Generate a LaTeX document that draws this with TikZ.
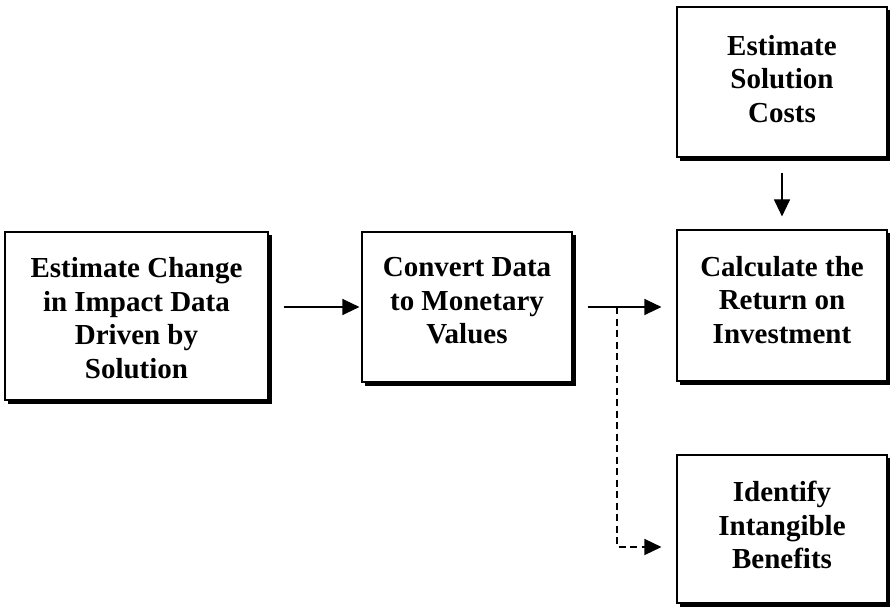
\documentclass[tikz,border=0pt]{standalone}
\usepackage{fontspec}
\setmainfont{Liberation Serif}
\usetikzlibrary{arrows.meta,shadows,calc}
\tikzset{
  stepbox/.style={draw=black, line width=1.1pt, fill=white, inner sep=0pt,
    copy shadow={shadow xshift=3.5pt, shadow yshift=-3.5pt, fill=black, draw=black, line width=0.6pt}},
  boxtext/.style={align=center, font=\fontsize{29}{33.5}\selectfont\bfseries, inner sep=0pt},
  flow/.style={line width=1.1pt, -{Triangle[length=17pt,width=16pt]}},
  dashflow/.style={flow, line width=1.4pt, dash pattern=on 7pt off 4.5pt}
}
\begin{document}
\begin{tikzpicture}[x=1pt, y=-1pt]
  \useasboundingbox (0,0) rectangle (890,609);
  % boxes
  \node[stepbox, minimum width=263pt, minimum height=168pt] (b1) at (136.5,316) {};
  \node[stepbox, minimum width=210pt, minimum height=150pt] (b2) at (467,307) {};
  \node[stepbox, minimum width=210pt, minimum height=150pt] (b3) at (782,82) {};
  \node[stepbox, minimum width=210pt, minimum height=151pt] (b4) at (782,305.5) {};
  \node[stepbox, minimum width=210pt, minimum height=148pt] (b5) at (782,529) {};
  % box texts
  \node[boxtext] (t1) at (136.5,318) {Estimate Change\\in Impact Data\\Driven by\\Solution};
  \node[boxtext] (t2) at (467,301) {Convert Data\\to Monetary\\Values};
  \node[boxtext] (t3) at (782,79) {Estimate\\Solution\\Costs};
  \node[boxtext] (t4) at (782,300) {Calculate the\\Return on\\Investment};
  \node[boxtext] (t5) at (782,525) {Identify\\Intangible\\Benefits};
  % connectors
  \draw[flow, shorten <=15pt, shorten >=2pt] (b1.east |- b2.west) -- (b2.west);
  \draw[flow, shorten <=15pt, shorten >=15pt] (b2.east) -- (b4.west |- b2.east);
  \draw[flow, shorten <=15pt, shorten >=13pt] (b3.south) -- (b4.north);
  \coordinate (split) at (617,307);
  \coordinate (b5in) at ($(b5.west)+(0,18)$);
  \draw[dashflow, shorten >=15pt] (split) |- (b5in);
\end{tikzpicture}
\end{document}
